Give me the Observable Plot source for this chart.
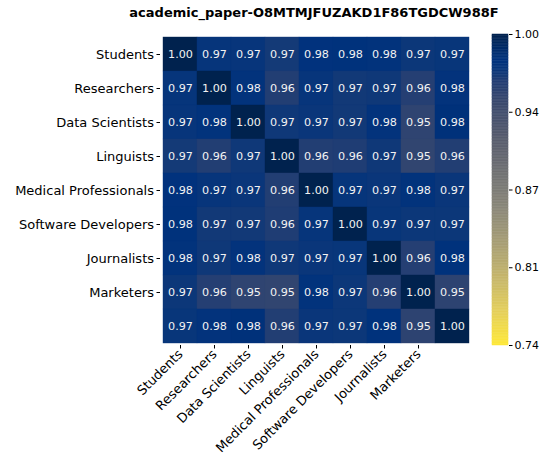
<!DOCTYPE html>
<html><head><meta charset="utf-8">
<script src="https://cdn.jsdelivr.net/npm/d3@7"></script>
<script src="https://cdn.jsdelivr.net/npm/@observablehq/plot@0.6"></script>
<style>
body{margin:0;background:#fff;}
#wrap{position:relative;width:548px;height:460px;font-family:"DejaVu Sans",sans-serif;}
#title{position:absolute;left:0;width:628px;top:5px;text-align:center;font-weight:bold;font-size:13px;line-height:15px;color:#000;z-index:2;}
#main,#cbar{position:absolute;top:0;}
#main{left:0;}
#cbar{left:480px;}
</style></head><body>
<div id="wrap"><div id="title">academic_paper-O8MTMJFUZAKD1F86TGDCW988F</div><div id="main"></div><div id="cbar"></div></div>
<script>
const rowLabels = ["Students","Researchers","Data Scientists","Linguists","Medical Professionals","Software Developers","Journalists","Marketers",""];
const colLabels = ["Students","Researchers","Data Scientists","Linguists","Medical Professionals","Software Developers","Journalists","Marketers",""];
const values = [
  [1.000,0.974,0.973,0.967,0.979,0.980,0.978,0.970,0.972],
  [0.974,1.000,0.978,0.962,0.973,0.968,0.969,0.960,0.977],
  [0.973,0.978,1.000,0.969,0.971,0.968,0.977,0.953,0.981],
  [0.967,0.962,0.969,1.000,0.962,0.963,0.969,0.951,0.962],
  [0.979,0.973,0.971,0.962,1.000,0.974,0.971,0.978,0.971],
  [0.980,0.968,0.968,0.963,0.974,1.000,0.972,0.970,0.970],
  [0.978,0.969,0.977,0.969,0.971,0.972,1.000,0.960,0.980],
  [0.970,0.960,0.953,0.951,0.978,0.970,0.960,1.000,0.954],
  [0.972,0.977,0.981,0.962,0.971,0.970,0.980,0.954,1.000]
];
const colorDomain = [0.744, 1.0];
const colorTicks = [0.744, 0.808, 0.872, 0.936, 1.0];

// "cividis"-style anchor colours (t, [r,g,b])
const cividisStops = [
  [0.000, [0, 34, 78]],
  [0.050, [0, 44, 108]],
  [0.080, [0, 50, 125]],
  [0.111, [8, 54, 122]],
  [0.150, [35, 62, 115]],
  [0.222, [60, 74, 110]],
  [0.333, [87, 92, 109]],
  [0.444, [112, 113, 115]],
  [0.556, [138, 135, 121]],
  [0.667, [166, 157, 117]],
  [0.778, [196, 181, 108]],
  [0.889, [228, 207, 91]],
  [1.000, [254, 232, 56]]
];
function cividis(t) {
  t = Math.max(0, Math.min(1, t));
  let k = 1;
  while (k < cividisStops.length - 1 && cividisStops[k][0] < t) k++;
  const [t0, c0] = cividisStops[k - 1], [t1, c1] = cividisStops[k];
  const u = (t - t0) / (t1 - t0);
  const c = c0.map((v, i) => Math.round(v + (c1[i] - v) * u));
  return `rgb(${c[0]},${c[1]},${c[2]})`;
}

const cells = [];
values.forEach((row, i) => row.forEach((v, j) => cells.push({row: i, col: j, v})));
const labeled = d3.range(rowLabels.length).filter(i => rowLabels[i] !== "");
const labeledX = d3.range(colLabels.length).filter(i => colLabels[i] !== "");

const colorOpts = {type: "linear", domain: colorDomain, interpolate: t => cividis(1 - t)};

const main = Plot.plot({
  width: 548, height: 460,
  marginLeft: 160, marginRight: 77, marginTop: 34, marginBottom: 115,
  style: {fontFamily: "DejaVu Sans", fontSize: "13px", color: "#000", background: "transparent"},
  x: {type: "band", domain: d3.range(colLabels.length), padding: 0, axis: null},
  y: {type: "band", domain: d3.range(rowLabels.length), padding: 0, axis: null},
  color: colorOpts,
  marks: [
    Plot.cell(cells, {x: "col", y: "row", fill: "v", stroke: "v", strokeWidth: 0.4, inset: 0}),
    Plot.text(cells, {x: "col", y: "row", text: d => d.v.toFixed(2), fill: "#f2f2f2", fontSize: 11.2}),
    Plot.axisY(labeled, {tickFormat: i => rowLabels[i], tickSize: 3.5, tickPadding: 3, fontSize: 13, label: null}),
    Plot.axisX(labeledX, {tickFormat: i => colLabels[i], tickRotate: -45, textAnchor: "end", tickSize: 3.5, tickPadding: 3, fontSize: 13, label: null})
  ]
});
document.getElementById("main").appendChild(main);

const n = 200;
const steps = d3.range(n).map(i => {
  const a = colorDomain[0] + (colorDomain[1] - colorDomain[0]) * i / n;
  const b = colorDomain[0] + (colorDomain[1] - colorDomain[0]) * (i + 1) / n;
  return {a, b, m: (a + b) / 2};
});
const cbar = Plot.plot({
  width: 68, height: 460,
  marginLeft: 12, marginRight: 40, marginTop: 34, marginBottom: 115,
  style: {fontFamily: "DejaVu Sans", fontSize: "11px", color: "#000", background: "transparent"},
  y: {type: "linear", domain: colorDomain, axis: null},
  color: colorOpts,
  marks: [
    Plot.rect(steps, {y1: "a", y2: "b", fill: "m", stroke: "m", strokeWidth: 0.5}),
    Plot.axisY(colorTicks, {anchor: "right", tickFormat: d3.format(".2f"), tickSize: 3.5, tickPadding: 2.5, fontSize: 11, label: null})
  ]
});
document.getElementById("cbar").appendChild(cbar);
</script>
</body></html>
